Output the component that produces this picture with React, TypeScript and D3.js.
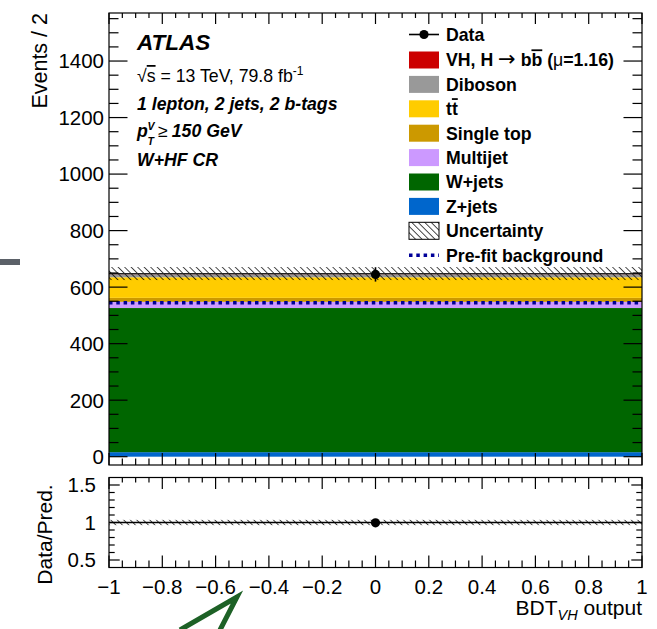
import React from 'react';
import * as d3 from 'd3';

// Single BDT bin in the W+HF control region
const binEdges = [-1, 1];
const zJets = [16];
const wJets = [510];
const multijet = [22];
const singleTop = [14];
const ttbar = [73];
const diboson = [11];
const vhSignal = [2];
const dataCounts = [645];
const bkgUncertainty = [23];
const prefitBackground = [545];

const xTickValues = [-1, -0.8, -0.6, -0.4, -0.2, 0, 0.2, 0.4, 0.6, 0.8, 1];
const mainYTickValues = [0, 200, 400, 600, 800, 1000, 1200, 1400];
const ratioYTickValues = [0.5, 1, 1.5];

const FONT = "'Liberation Sans', Arial, Helvetica, sans-serif";
const SYMBOL_FONT = "'DejaVu Sans', sans-serif";

const W = 657;
const H = 629;
const left = 109;
const right = 642;
const mainTop = 13;
const mainBottom = 465;
const ratioTop = 477.5;
const ratioBottom = 567.5;

const colors: Record<string, string> = {
  zjets: '#0066cc',
  wjets: '#006600',
  multijet: '#cc99ff',
  stop: '#cc9900',
  ttbar: '#ffcc00',
  diboson: '#999999',
  vh: '#cc0000',
};

const layers = [
  { key: 'zjets', values: zJets },
  { key: 'wjets', values: wJets },
  { key: 'multijet', values: multijet },
  { key: 'stop', values: singleTop },
  { key: 'ttbar', values: ttbar },
  { key: 'diboson', values: diboson },
  { key: 'vh', values: vhSignal },
];

const fmtTick = (v: number) => {
  const s = d3.format('~g')(v);
  return s.replace('-', '\u2212');
};

export default function App() {
  const x = d3.scaleLinear().domain([-1, 1]).range([left, right]);
  const y = d3.scaleLinear().domain([-29.4, 1570]).range([mainBottom, mainTop]);
  const yr = d3.scaleLinear().domain([0.4, 1.6]).range([ratioBottom, ratioTop]);

  const table = binEdges.slice(0, -1).map((_, i) => {
    const row: Record<string, number> = { bin: i };
    layers.forEach((l) => (row[l.key] = l.values[i]));
    return row;
  });
  const stacked = d3.stack<Record<string, number>>().keys(layers.map((l) => l.key))(table);
  const totals = table.map((r) => layers.reduce((s, l) => s + r[l.key], 0));

  const xMinor = d3.range(-1, 1.0001, 0.05).map((v) => +v.toFixed(2));
  const xMajor = xTickValues;
  const yMinor = d3.range(0, 1570, 50);
  const yrMinor = d3.range(0.5, 1.5001, 0.1).map((v) => +v.toFixed(2));

  const isMajorX = (v: number) => xMajor.some((m) => Math.abs(m - v) < 1e-6);

  const tickStroke = { stroke: '#000', strokeWidth: 1.2 };

  const legendRows = [
    'Data',
    'VH',
    'Diboson',
    'ttbar',
    'Single top',
    'Multijet',
    'W+jets',
    'Z+jets',
    'Uncertainty',
    'Pre-fit background',
  ];
  const legendY = (i: number) => (i === 0 ? 34.5 : 60 + (i - 1) * 24.4);
  const lx0 = 409;
  const lx1 = 439;
  const ltx = 446;
  const legendColorKey: Record<string, string> = {
    VH: 'vh',
    Diboson: 'diboson',
    ttbar: 'ttbar',
    'Single top': 'stop',
    Multijet: 'multijet',
    'W+jets': 'wjets',
    'Z+jets': 'zjets',
  };

  const legendLabel = (name: string) => {
    if (name === 'VH')
      return (
        <>
          VH, H{' '}
          <tspan fontWeight="normal" fontFamily={SYMBOL_FONT} fontSize={21}>
            {'\u2192'}
          </tspan>{' '}
          b<tspan style={{ textDecoration: 'overline' }}>b</tspan> (
          <tspan fontWeight="normal">{'\u03bc'}</tspan>=1.16)
        </>
      );
    if (name === 'ttbar')
      return (
        <>
          t<tspan style={{ textDecoration: 'overline' }}>t</tspan>
        </>
      );
    return name;
  };

  return (
    <svg width={W} height={H} style={{ position: 'absolute', left: 0, top: 0, background: '#fff' }} fontFamily={FONT}>
      <defs>
        <pattern id="hatch" patternUnits="userSpaceOnUse" width={4.6} height={4.6} patternTransform="rotate(-45)">
          <line x1={0} y1={0} x2={0} y2={4.6} stroke="#000" strokeWidth={1.4} />
        </pattern>
        <clipPath id="mainClip">
          <rect x={left} y={mainTop} width={right - left} height={mainBottom - mainTop} />
        </clipPath>
      </defs>
      <rect x={0} y={0} width={W} height={H} fill="#fff" />

      {/* stacked backgrounds */}
      <g clipPath="url(#mainClip)">
        {stacked.map((s) =>
          s.map((d, i) => (
            <rect
              key={s.key + i}
              x={x(binEdges[i])}
              width={x(binEdges[i + 1]) - x(binEdges[i])}
              y={y(d[1])}
              height={Math.max(0, y(d[0]) - y(d[1]))}
              fill={colors[s.key]}
            />
          ))
        )}
        {totals.map((t, i) => (
          <g key={'tot' + i}>
            <rect
              x={x(binEdges[i])}
              width={x(binEdges[i + 1]) - x(binEdges[i])}
              y={y(t + bkgUncertainty[i])}
              height={y(t - bkgUncertainty[i]) - y(t + bkgUncertainty[i])}
              fill="url(#hatch)"
            />
            <line x1={x(binEdges[i])} x2={x(binEdges[i + 1])} y1={y(t)} y2={y(t)} stroke="#222" strokeWidth={1.3} />
            <line
              x1={x(binEdges[i])}
              x2={x(binEdges[i + 1])}
              y1={y(prefitBackground[i])}
              y2={y(prefitBackground[i])}
              stroke="#000099"
              strokeWidth={3.5}
              strokeDasharray="3.5 3.8"
            />
          </g>
        ))}
      </g>

      {/* data */}
      {dataCounts.map((n, i) => {
        const cx = x((binEdges[i] + binEdges[i + 1]) / 2);
        const e = Math.sqrt(n);
        return (
          <g key={'d' + i}>
            <line x1={cx} x2={cx} y1={y(n + e)} y2={y(n - e)} stroke="#000" strokeWidth={1.6} />
            <circle cx={cx} cy={y(n)} r={4.6} fill="#000" />
          </g>
        );
      })}

      {/* main frame and ticks */}
      <rect x={left} y={mainTop} width={right - left} height={mainBottom - mainTop} fill="none" stroke="#000" strokeWidth={1.2} />
      {xMinor.map((v) => {
        const L = isMajorX(v) ? 12 : 6.5;
        return (
          <g key={'mx' + v}>
            <line x1={x(v)} x2={x(v)} y1={mainBottom} y2={mainBottom - L} {...tickStroke} />
            <line x1={x(v)} x2={x(v)} y1={mainTop} y2={mainTop + (isMajorX(v) ? 11 : 5)} {...tickStroke} />
          </g>
        );
      })}
      {yMinor.map((v) => {
        const L = v % 200 === 0 ? 18.5 : 9.5;
        return (
          <g key={'my' + v}>
            <line x1={left} x2={left + L} y1={y(v)} y2={y(v)} {...tickStroke} />
            <line x1={right} x2={right - L} y1={y(v)} y2={y(v)} {...tickStroke} />
          </g>
        );
      })}
      {mainYTickValues.map((v) => (
        <text key={'myl' + v} x={104} y={y(v)} dy="0.36em" textAnchor="end" fontSize={20.5}>
          {v}
        </text>
      ))}
      <text transform={`translate(47,${mainTop}) rotate(-90)`} textAnchor="end" fontSize={21.5}>
        Events / 2
      </text>

      {/* ATLAS label block */}
      <text x={137} y={50} fontSize={22.5} fontWeight="bold" fontStyle="italic">
        ATLAS
      </text>
      <text x={137} y={82} fontSize={17.7}>
        {'\u221a'}
        <tspan style={{ textDecoration: 'overline' }}>s</tspan> = 13 TeV, 79.8 fb
        <tspan dy={-7} fontSize={12}>
          -1
        </tspan>
      </text>
      <text x={137} y={110} fontSize={17.7} fontWeight="bold" fontStyle="italic">
        1 lepton, 2 jets, 2 b-tags
      </text>
      <g fontWeight="bold" fontStyle="italic">
        <text x={137} y={137} fontSize={17.7}>p</text>
        <text x={147.5} y={130} fontSize={10.5}>V</text>
        <text x={147.5} y={145} fontSize={10.5}>T</text>
        <text x={158} y={137} fontSize={17.7}>
          <tspan fontWeight="normal" fontStyle="normal">{'\u2265'}</tspan>
          <tspan dx={4}>150 GeV</tspan>
        </text>
      </g>
      <text x={137} y={166} fontSize={17.7} fontWeight="bold" fontStyle="italic">
        W+HF CR
      </text>

      {/* legend */}
      {legendRows.map((name, i) => {
        const cy = legendY(i);
        let marker: React.ReactNode = null;
        if (name === 'Data') {
          marker = (
            <g>
              <line x1={lx0} x2={lx1} y1={cy} y2={cy} stroke="#000" strokeWidth={1.6} />
              <circle cx={(lx0 + lx1) / 2} cy={cy} r={4.6} fill="#000" />
            </g>
          );
        } else if (name === 'Uncertainty') {
          marker = <rect x={lx0} y={cy - 8.5} width={lx1 - lx0} height={17} fill="url(#hatch)" stroke="#000" strokeWidth={1} />;
        } else if (name === 'Pre-fit background') {
          marker = <line x1={lx0} x2={lx1} y1={cy} y2={cy} stroke="#000099" strokeWidth={3.5} strokeDasharray="3.5 3.8" />;
        } else {
          marker = <rect x={lx0} y={cy - 8.5} width={lx1 - lx0} height={17} fill={colors[legendColorKey[name]]} />;
        }
        return (
          <g key={'lg' + name}>
            {marker}
            <text x={ltx} y={cy} dy="0.36em" fontSize={17.7} fontWeight="bold">
              {legendLabel(name)}
            </text>
          </g>
        );
      })}

      {/* ratio panel */}
      {totals.map((t, i) => {
        const u = bkgUncertainty[i] / t;
        return (
          <rect
            key={'ru' + i}
            x={x(binEdges[i])}
            width={x(binEdges[i + 1]) - x(binEdges[i])}
            y={yr(1 + u)}
            height={yr(1 - u) - yr(1 + u)}
            fill="url(#hatch)"
          />
        );
      })}
      <line x1={left} x2={right} y1={yr(1)} y2={yr(1)} stroke="#000" strokeWidth={1.6} />
      {dataCounts.map((n, i) => {
        const cx = x((binEdges[i] + binEdges[i + 1]) / 2);
        const r = n / totals[i];
        const e = Math.sqrt(n) / totals[i];
        return (
          <g key={'rd' + i}>
            <line x1={cx} x2={cx} y1={yr(r + e)} y2={yr(r - e)} stroke="#000" strokeWidth={1.6} />
            <circle cx={cx} cy={yr(r)} r={4.6} fill="#000" />
          </g>
        );
      })}
      <rect x={left} y={ratioTop} width={right - left} height={ratioBottom - ratioTop} fill="none" stroke="#000" strokeWidth={1.2} />
      {xMinor.map((v) => (
        <g key={'rx' + v}>
          <line x1={x(v)} x2={x(v)} y1={ratioBottom} y2={ratioBottom - (isMajorX(v) ? 12 : 7)} {...tickStroke} />
          <line x1={x(v)} x2={x(v)} y1={ratioTop} y2={ratioTop + (isMajorX(v) ? 11.5 : 5)} {...tickStroke} />
        </g>
      ))}
      {yrMinor.map((v) => {
        const major = ratioYTickValues.some((m) => Math.abs(m - v) < 1e-6);
        const L = major ? 10.7 : 5.7;
        return (
          <g key={'ry' + v}>
            <line x1={left} x2={left + L} y1={yr(v)} y2={yr(v)} {...tickStroke} />
            <line x1={right} x2={right - L} y1={yr(v)} y2={yr(v)} {...tickStroke} />
          </g>
        );
      })}
      {ratioYTickValues.map((v) => (
        <text key={'ryl' + v} x={96} y={yr(v)} dy="0.36em" textAnchor="end" fontSize={20.5}>
          {v}
        </text>
      ))}
      <text transform={`translate(52,${(ratioTop + ratioBottom) / 2 + 12}) rotate(-90)`} textAnchor="middle" fontSize={21}>
        Data/Pred.
      </text>
      {xTickValues.map((v) => (
        <text key={'xl' + v} x={x(v)} y={594} textAnchor="middle" fontSize={20.5}>
          {fmtTick(v)}
        </text>
      ))}
      <text x={right} y={615} textAnchor="end" fontSize={21}>
        BDT
        <tspan dy={5} fontSize={14.5} fontStyle="italic">
          VH
        </tspan>
        <tspan dy={-5}> output</tspan>
      </text>

      {/* page annotations */}
      <rect x={0} y={259} width={20} height={6} fill="#5b6168" />
      <path d="M180,630 L237,597 L220,630" fill="none" stroke="#1d6126" strokeWidth={5} strokeLinejoin="miter" />
    </svg>
  );
}
